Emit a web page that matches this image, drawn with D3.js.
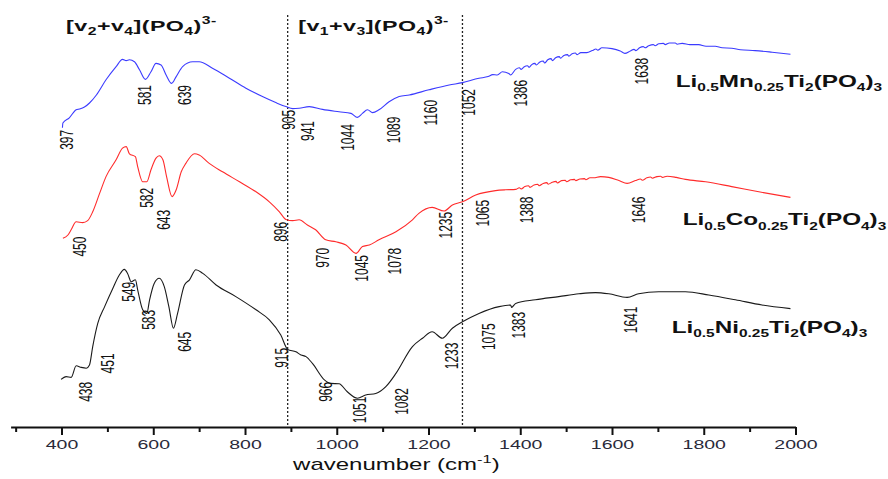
<!DOCTYPE html>
<meta charset="utf-8">
<style>
  body { margin: 0; background: #fff; }
  svg { display: block; font-family: "Liberation Sans", Arial, sans-serif; }
</style>
<body>
<div id="graph"></div>
<script src="https://d3js.org/d3.v7.min.js"></script>
<script>
var width = 888, height = 479;
var stretch = 1.5; // the exported figure is stretched sideways, text too

// spectra: [wavenumber (cm-1), transmittance (a.u.)]
var mnSpectrum = [[402,74.8],[403,76.0],[417,77.3],[432,79.3],[439,79.5],[450,80.0],[461,81.0],[476,83.0],[497,86.8],[519,90.1],[533,91.9],[541,91.6],[548,91.8],[559,91.3],[570,89.3],[583,86.9],[595,88.8],[606,90.9],[617,90.5],[628,88.0],[640,85.9],[650,87.6],[664,90.1],[686,91.3],[700,91.3],[729,89.7],[766,87.2],[802,84.7],[838,82.6],[867,81.1],[889,80.1],[904,79.6],[918,79.7],[940,80.1],[969,79.4],[1005,78.8],[1031,78.4],[1045,77.4],[1056,78.4],[1067,79.3],[1078,78.6],[1092,79.3],[1114,81.3],[1136,82.6],[1158,83.0],[1201,84.3],[1245,85.5],[1274,86.1],[1310,87.2],[1330,87.6],[1340,88.1],[1350,88.0],[1361,88.8],[1375,88.4],[1379,88.0],[1390,89.4],[1398,89.8],[1402,89.4],[1408,90.0],[1416,90.3],[1419,89.9],[1425,90.6],[1432,90.9],[1435,90.5],[1442,91.2],[1450,91.5],[1453,91.0],[1460,91.8],[1467,92.1],[1470,91.6],[1477,92.3],[1485,92.6],[1488,92.2],[1495,92.9],[1503,93.1],[1506,92.7],[1513,93.3],[1520,93.5],[1524,93.1],[1532,93.6],[1545,93.6],[1557,94.1],[1565,94.5],[1569,94.2],[1578,94.8],[1600,94.6],[1618,94.0],[1628,93.4],[1640,94.0],[1648,94.4],[1652,94.1],[1660,94.8],[1668,95.1],[1672,94.8],[1680,95.3],[1690,95.6],[1694,95.3],[1702,95.8],[1712,95.9],[1716,95.6],[1725,96.0],[1738,96.0],[1742,95.7],[1753,95.9],[1770,95.6],[1789,95.6],[1805,95.2],[1825,95.2],[1840,94.8],[1861,94.7],[1880,94.3],[1912,94.1],[1949,93.7],[1989,93.2]];

var coSpectrum = [[403,47.2],[414,48.0],[421,49.3],[432,51.3],[446,51.1],[457,51.6],[468,53.8],[483,58.4],[497,62.6],[519,66.8],[533,69.7],[541,70.1],[548,68.3],[561,67.6],[566,65.1],[577,61.3],[586,61.3],[595,64.3],[606,67.2],[613,67.8],[621,66.8],[629,62.6],[641,57.6],[650,59.3],[661,63.8],[671,65.9],[690,68.3],[700,68.0],[722,65.9],[751,63.8],[788,61.3],[824,58.8],[853,56.3],[875,53.8],[889,51.9],[904,51.6],[918,51.8],[936,50.5],[954,49.3],[976,46.8],[998,46.3],[1020,45.5],[1042,43.4],[1056,45.1],[1071,45.5],[1092,46.8],[1129,48.8],[1165,51.8],[1179,53.4],[1208,54.9],[1234,54.0],[1252,55.5],[1274,56.3],[1303,58.0],[1346,59.1],[1368,59.3],[1390,59.4],[1398,59.8],[1402,59.5],[1410,60.1],[1418,60.3],[1421,59.9],[1430,60.5],[1438,60.7],[1441,60.3],[1450,60.9],[1458,61.1],[1461,60.7],[1470,61.2],[1478,61.4],[1481,61.0],[1490,61.6],[1498,61.7],[1501,61.3],[1510,61.8],[1518,61.9],[1521,61.6],[1530,62.0],[1540,62.1],[1543,61.8],[1552,62.3],[1560,62.3],[1575,62.6],[1593,62.4],[1615,61.6],[1633,60.9],[1651,61.6],[1662,62.0],[1666,61.7],[1676,62.3],[1684,62.5],[1688,62.2],[1698,62.6],[1706,62.7],[1710,62.4],[1720,62.7],[1740,62.4],[1760,61.9],[1804,61.3],[1861,60.1],[1920,58.8],[1989,57.4]];

var niSpectrum = [[399,11.9],[410,12.6],[421,12.4],[432,15.3],[443,14.9],[454,14.7],[461,15.5],[468,20.1],[479,25.9],[494,30.1],[512,34.7],[526,38.0],[537,39.4],[544,38.4],[552,36.3],[561,36.8],[566,34.3],[577,29.3],[586,28.4],[592,31.8],[602,35.9],[613,37.2],[624,35.1],[634,30.1],[644,24.7],[653,28.4],[668,35.5],[679,36.8],[693,39.3],[708,38.4],[737,35.5],[780,32.6],[824,29.3],[853,26.8],[878,23.0],[893,19.4],[911,18.8],[922,18.0],[933,17.6],[947,15.9],[973,11.8],[987,10.9],[1005,10.8],[1023,8.8],[1045,7.2],[1063,8.0],[1085,8.4],[1107,10.1],[1129,13.4],[1165,20.1],[1187,22.2],[1208,23.8],[1230,22.2],[1252,24.7],[1274,26.3],[1310,28.4],[1354,30.1],[1379,30.5],[1381,29.9],[1390,30.9],[1433,31.8],[1484,32.6],[1528,33.3],[1564,33.6],[1593,33.3],[1633,32.4],[1658,33.3],[1702,33.8],[1760,33.8],[1811,33.0],[1869,31.8],[1927,30.5],[1989,29.6]];

// peak labels: [text, wavenumber, top of label (a.u.)]
var mnPeaks = [["397",411,74.3],["581",582,85.5],["639",668,85.5],["905",895,79.3],["941",936,76.5],["1044",1023,75.7],["1089",1125,77.6],["1160",1205,81.8],["1052",1288,84.5],["1386",1401,86.8],["1638",1665,92.3]];
var coPeaks = [["450",439,47.6],["582",585,59.8],["643",622,54.3],["896",878,51.3],["970",970,44.8],["1045",1055,43.0],["1078",1127,44.8],["1235",1238,53.8],["1065",1319,56.8],["1388",1414,57.6],["1646",1658,57.6]];
var niPeaks = [["438",452,11.3],["451",500,18.4],["549",546,36.3],["583",589,29.3],["645",668,23.8],["915",880,19.8],["966",976,11.3],["1051",1051,7.6],["1082",1141,9.7],["1233",1250,21.1],["1075",1332,25.9],["1383",1397,28.8],["1641",1641,30.1]];

// sample names, split into normal / subscript parts
var mnName = [["Li","n"],["0.5","sub"],["Mn","n"],["0.25","sub"],["Ti","n"],["2","sub"],["(PO","n"],["4","sub"],[")","n"],["3","sub"]];
var coName = [["Li","n"],["0.5","sub"],["Co","n"],["0.25","sub"],["Ti","n"],["2","sub"],["(PO","n"],["4","sub"],[")","n"],["3","sub"]];
var niName = [["Li","n"],["0.5","sub"],["Ni","n"],["0.25","sub"],["Ti","n"],["2","sub"],["(PO","n"],["4","sub"],[")","n"],["3","sub"]];

// band regions
var bandEdges = [893, 1274];
var bandTitles = [
  [[["[v","n"],["2","sub"],["+v","n"],["4","sub"],["](PO","n"],["4","sub"],[")","n"],["3-","sup"]], 410],
  [[["[v","n"],["1","sub"],["+v","n"],["3","sub"],["](PO","n"],["4","sub"],[")","n"],["3-","sup"]], 916]
];

var majorTicks = [400, 600, 800, 1000, 1200, 1400, 1600, 1800, 2000];
var minorTicks = [300, 500, 700, 900, 1100, 1300, 1500, 1700, 1900];

var series = [
  {data: mnSpectrum, peaks: mnPeaks, name: mnName, color: "#3b3bff", nameAt: [1739, 85.1]},
  {data: coSpectrum, peaks: coPeaks, name: coName, color: "#ff2b2b", nameAt: [1754, 50.5]},
  {data: niSpectrum, peaks: niPeaks, name: niName, color: "#1a1a1a", nameAt: [1730, 23.6]}
];

var x = d3.scaleLinear().domain([289, 2000]).range([10.6, 795.5]);
var y = d3.scaleLinear().domain([0, 100]).range([427, 27]);

var svg = d3.select("#graph").append("svg")
  .attr("width", width)
  .attr("height", height);

svg.append("rect").attr("width", width).attr("height", height).attr("fill", "#fff");

// text with sub/superscripts
function richText(g, parts, size, small, sub, sup) {
  var t = g.append("text");
  var shift = 0;
  parts.forEach(function(p) {
    var target = p[1] == "sub" ? sub : p[1] == "sup" ? -sup : 0;
    t.append("tspan")
      .attr("font-size", p[1] == "n" ? size : small)
      .attr("dy", target - shift)
      .text(p[0]);
    shift = target;
  });
  return t;
}

// dotted region lines
svg.selectAll(".edge")
  .data(bandEdges)
  .enter().append("line")
  .attr("class", "edge")
  .attr("x1", function(d) { return x(d); })
  .attr("x2", function(d) { return x(d); })
  .attr("y1", y(103))
  .attr("y2", y(0))
  .attr("stroke", "#222")
  .attr("stroke-width", 1.3)
  .attr("stroke-dasharray", "2,2");

bandTitles.forEach(function(b) {
  var g = svg.append("g")
    .attr("transform", "translate(" + x(b[1]) + "," + y(99) + ") scale(" + stretch + ",1)");
  richText(g, b[0], 15.5, 10.5, 4, 7)
    .attr("font-weight", "bold")
    .attr("letter-spacing", 0.3)
    .attr("fill", "#111");
});

var line = d3.line()
  .x(function(d) { return x(d[0]); })
  .y(function(d) { return y(d[1]); })
  .curve(d3.curveMonotoneX);

series.forEach(function(s) {
  svg.append("path")
    .datum(s.data)
    .attr("fill", "none")
    .attr("stroke", s.color)
    .attr("stroke-width", 1.1)
    .attr("d", line);

  svg.selectAll(null)
    .data(s.peaks)
    .enter().append("text")
    .attr("transform", function(d) {
      return "translate(" + x(d[1]) + "," + y(d[2]) + ") scale(" + stretch + ",1) rotate(-90)";
    })
    .attr("text-anchor", "end")
    .attr("dy", "0.35em")
    .attr("font-size", 12)
    .attr("fill", "#111")
    .text(function(d) { return d[0]; });

  var g = svg.append("g")
    .attr("transform", "translate(" + x(s.nameAt[0]) + "," + y(s.nameAt[1]) + ") scale(" + stretch + ",1)");
  richText(g, s.name, 16.2, 10.3, 4.5, 7)
    .attr("font-weight", "bold")
    .attr("fill", "#111");
});

// x axis
var xAxis = d3.axisBottom(x)
  .tickValues(majorTicks)
  .tickSize(8)
  .tickSizeOuter(0)
  .tickFormat(d3.format("d"));

var ax = svg.append("g")
  .attr("class", "x axis")
  .attr("transform", "translate(0," + y(0) + ")")
  .call(xAxis);

ax.select(".domain").attr("stroke", "#111").attr("stroke-width", 2);
ax.selectAll(".tick line").attr("stroke", "#111").attr("stroke-width", 2);
ax.selectAll(".tick text")
  .attr("y", 0)
  .attr("dy", 0)
  .attr("transform", "translate(0,22) scale(" + stretch + ",1)")
  .attr("font-size", 13)
  .attr("font-family", "Liberation Sans, Arial, sans-serif")
  .attr("fill", "#2a2a3a");

var minor = svg.append("g")
  .attr("transform", "translate(0," + y(0) + ")")
  .call(d3.axisBottom(x).tickValues(minorTicks).tickSize(5).tickFormat(""));
minor.select(".domain").remove();
minor.selectAll(".tick line").attr("stroke", "#111").attr("stroke-width", 2);

// axis title
var tg = svg.append("g")
  .attr("transform", "translate(" + x(1130) + ",470) scale(" + stretch + ",1)");
richText(tg, [["wavenumber (cm","n"],["-1","sup"],[")","n"]], 16, 11, 0, 7)
  .attr("text-anchor", "middle")
  .attr("fill", "#111");
</script>
</body>
